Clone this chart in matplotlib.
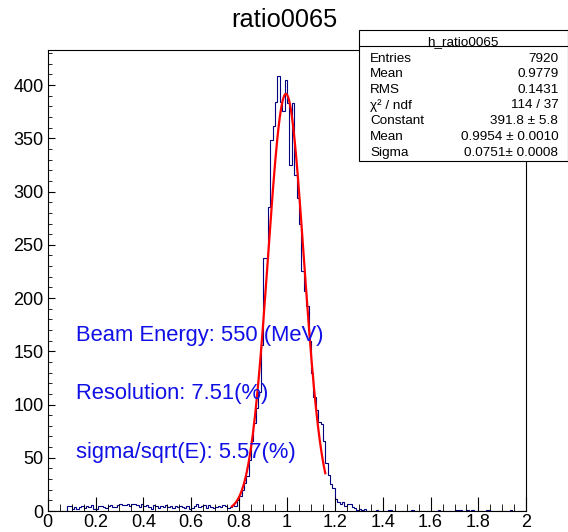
import numpy as np
import matplotlib.pyplot as plt
from matplotlib.ticker import MultipleLocator
from matplotlib.patches import Rectangle
from matplotlib.lines import Line2D

plt.rcParams['font.family'] = ['Liberation Sans', 'DejaVu Sans']

# histogram h_ratio0065: 200 bins of width 0.01 from 0 to 2
x_lo, x_hi, n_bins = 0.0, 2.0, 200

# bins 0 .. 77  (x < 0.78)
tail_low = [0, 0, 0, 0, 0, 0, 0, 0,
            5, 5, 2, 4, 2, 4, 5, 3, 5, 4, 6, 2,
            2, 5, 5, 4, 3, 5, 6, 4, 4, 6,
            7, 6, 6, 7, 5, 7, 7, 6, 4, 7,
            5, 6, 4, 2, 6, 5, 3, 5, 4, 6,
            4, 5, 3, 5, 4, 5, 4, 3, 5, 2,
            3, 5, 7, 4, 5, 6, 3, 6, 4, 3,
            4, 5, 4, 6, 5, 3, 4, 6]
# bins 78 .. 131  (0.78 <= x < 1.32)
peak = [5, 10, 14, 20, 26, 33, 48, 66, 83, 97,
        112, 156, 238, 238, 286, 348, 362, 384, 409, 384,
        376, 405, 383, 325, 383, 316, 294, 270, 225, 207,
        193, 160, 130, 107, 95, 84, 82, 66, 45, 34,
        25, 22, 11, 8, 7, 8, 5, 7, 7, 4,
        3, 1, 2, 1]
# bins 132 .. 199  (x >= 1.32)
tail_high = [2, 0, 0, 0, 0, 1, 0, 0, 0, 0,
             1, 1, 0, 0, 0, 0, 0, 0, 0, 0,
             1, 0, 0, 0, 0, 0, 0, 0, 0, 0,
             0, 1, 0, 0, 0, 0, 0, 0, 1, 1,
             1, 0, 0, 1, 0, 1, 0, 0, 0, 0,
             0, 1, 1, 0, 0, 0, 0, 0, 0, 0,
             0, 1, 0, 0, 0, 0, 0, 0]

counts = np.array(tail_low + peak + tail_high, dtype=float)
edges = np.linspace(x_lo, x_hi, n_bins + 1)

# gaussian fit result (from stats box)
fit_const = 391.8
fit_mean = 0.9954
fit_sigma = 0.0751
fit_range = (0.77, 1.16)

stats_rows = [('Entries', '7920'),
              ('Mean', '0.9779'),
              ('RMS', '0.1431'),
              ('\u03c7\u00b2 / ndf', '114 / 37'),
              ('Constant', '391.8 \u00b1 5.8'),
              ('Mean', '0.9954 \u00b1 0.0010'),
              ('Sigma', '0.0751\u00b1 0.0008')]

notes = ['Beam Energy: 550 (MeV)', 'Resolution: 7.51(%)', 'sigma/sqrt(E): 5.57(%)']
note_y = [160, 105, 50]

W, H = 568, 532
fig = plt.figure(figsize=(W / 100, H / 100), dpi=100)
ax = fig.add_axes([47.7 / W, 21 / H, 478.6 / W, 461 / H])

ax.stairs(counts, edges, color='#000080', linewidth=0.8)

xf = np.linspace(fit_range[0], fit_range[1], 300)
yf = fit_const * np.exp(-0.5 * ((xf - fit_mean) / fit_sigma) ** 2)
ax.plot(xf, yf, color='red', linewidth=1.6)

ax.set_xlim(x_lo, x_hi)
ax.set_ylim(0, 433)
ax.xaxis.set_major_locator(MultipleLocator(0.2))
ax.xaxis.set_minor_locator(MultipleLocator(0.05))
ax.yaxis.set_major_locator(MultipleLocator(50))
ax.yaxis.set_minor_locator(MultipleLocator(10))
ax.xaxis.set_major_formatter(plt.FuncFormatter(lambda v, p: f'{v:g}'))
ax.tick_params(axis='both', which='both', direction='in', labelsize=13,
               top=False, right=False, pad=2)
ax.tick_params(axis='x', which='major', length=10)
ax.tick_params(axis='x', which='minor', length=5)
ax.tick_params(axis='y', which='major', length=5, pad=3)
ax.tick_params(axis='y', which='minor', length=3)
for s in ax.spines.values():
    s.set_linewidth(0.8)

for txt, yv in zip(notes, note_y):
    ax.text(0.12, yv, txt, color='#1010e6', fontsize=15.8, va='baseline')

fig.text(0.5, 1 - 20 / H, 'ratio0065', ha='center', va='center', fontsize=18.3)

# stats box
bx0, bx1, by0, by1 = 359, 567.5, 29.7, 161.3
fig.add_artist(Rectangle((bx0 / W, 1 - by1 / H), (bx1 - bx0) / W, (by1 - by0) / H,
                         transform=fig.transFigure, facecolor='white',
                         edgecolor='black', linewidth=0.8, zorder=5))
fig.add_artist(Line2D([bx0 / W, bx1 / W], [1 - 46.3 / H, 1 - 46.3 / H],
                      transform=fig.transFigure, color='black', linewidth=0.8, zorder=6))
fig.text((bx0 + bx1) / 2 / W, 1 - 42 / H, 'h_ratio0065', ha='center', va='center',
         fontsize=9.7, zorder=7)
row_y = [58.7, 74, 89.7, 105.3, 121.3, 137, 153]
for (lab, val), ry in zip(stats_rows, row_y):
    fig.text(370 / W, 1 - ry / H, lab, ha='left', va='center', fontsize=9.7, zorder=7)
    fig.text(558.3 / W, 1 - ry / H, val, ha='right', va='center', fontsize=9.7, zorder=7)

fig.savefig('out.png', dpi=100)
